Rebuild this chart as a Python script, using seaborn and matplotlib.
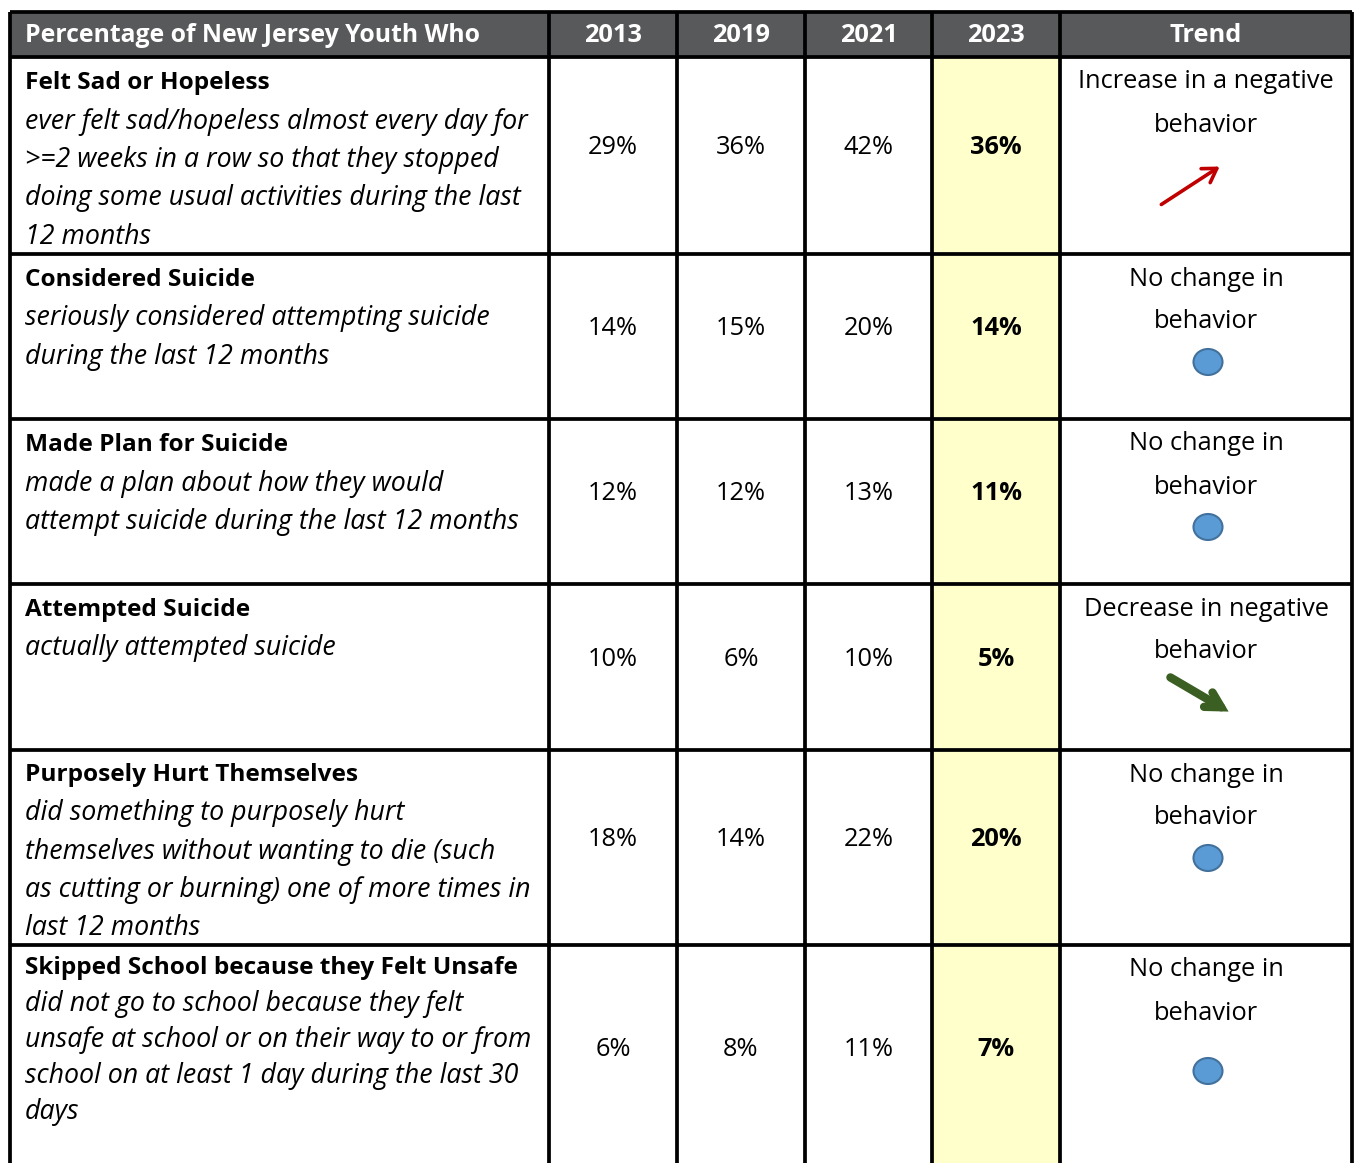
import matplotlib
matplotlib.use("Agg")
import matplotlib.pyplot as plt
import seaborn as sns
from matplotlib.patches import Rectangle, Ellipse

# --- data ---
measures = [
    "Felt Sad or Hopeless",
    "Considered Suicide",
    "Made Plan for Suicide",
    "Attempted Suicide",
    "Purposely Hurt Themselves",
    "Skipped School because they Felt Unsafe",
]
descriptions = [
    "ever felt sad/hopeless almost every day for\n>=2 weeks in a row so that they stopped\ndoing some usual activities during the last\n12 months",
    "seriously considered attempting suicide\nduring the last 12 months",
    "made a plan about how they would\nattempt suicide during the last 12 months",
    "actually attempted suicide",
    "did something to purposely hurt\nthemselves without wanting to die (such\nas cutting or burning) one of more times in\nlast 12 months",
    "did not go to school because they felt\nunsafe at school or on their way to or from\nschool on at least 1 day during the last 30\ndays",
]
years = ["2013", "2019", "2021", "2023"]
pct_2013 = [29, 14, 12, 10, 18, 6]
pct_2019 = [36, 15, 12, 6, 14, 8]
pct_2021 = [42, 20, 13, 10, 22, 11]
pct_2023 = [36, 14, 11, 5, 20, 7]
trend_text = [
    "Increase in a negative\nbehavior",
    "No change in\nbehavior",
    "No change in\nbehavior",
    "Decrease in negative\nbehavior",
    "No change in\nbehavior",
    "No change in\nbehavior",
]
trend_kind = ["up", "same", "same", "down", "same", "same"]
header_first = "Percentage of New Jersey Youth Who"
header_last = "Trend"

# --- layout (pixels) ---
W, H = 1354, 1163
col_edges = [10, 549, 677, 805, 932, 1060, 1352]
row_edges = [12, 57, 254, 419, 584, 750, 945, 1175]
title_off = [24, 24, 24, 24, 23, 21]
line_gap = [38.5, 38.5, 38.5, 38.5, 38.3, 36]
HEADER_BG = "#58595b"
YELLOW = "#ffffcc"
FONT = "Open Sans"
FS_HEAD = 17.8
FS_TITLE = 17.6
FS_DESC = 19.3
FS_NUM = 18.3
DY = 2.0  # Open Sans sits a bit high with va=center

sns.set_theme(style="white")
plt.rcParams["font.family"] = [FONT, "DejaVu Sans"]

fig = plt.figure(figsize=(W / 100, H / 100), dpi=100)
ax = fig.add_axes([0, 0, 1, 1])
ax.set_xlim(0, W)
ax.set_ylim(H, 0)
ax.axis("off")

# header band
ax.add_patch(Rectangle((col_edges[0], row_edges[0]), col_edges[-1] - col_edges[0],
                       row_edges[1] - row_edges[0], color=HEADER_BG, zorder=0))
# 2023 column highlight
ax.add_patch(Rectangle((col_edges[4], row_edges[1]), col_edges[5] - col_edges[4],
                       row_edges[-1] - row_edges[1], color=YELLOW, zorder=0))

# header text
hy = (row_edges[0] + row_edges[1]) / 2 + 1.5
ax.text(col_edges[0] + 15, hy, header_first, color="white", fontsize=FS_HEAD,
        fontweight="bold", ha="left", va="center")
for j, lab in enumerate(years + [header_last]):
    cx = (col_edges[j + 1] + col_edges[j + 2]) / 2
    ax.text(cx, hy, lab, color="white", fontsize=FS_NUM, fontweight="bold",
            ha="center", va="center")

values = [pct_2013, pct_2019, pct_2021, pct_2023]
for i in range(len(measures)):
    top = row_edges[i + 1]
    bot = row_edges[i + 2]
    # first column
    ty = top + title_off[i] + DY
    ax.text(col_edges[0] + 15, ty, measures[i], fontsize=FS_TITLE,
            fontweight="bold", ha="left", va="center", color="black")
    for k, line in enumerate(descriptions[i].split("\n")):
        ax.text(col_edges[0] + 15, ty + line_gap[i] * (k + 1), line, fontsize=FS_DESC,
                style="italic", ha="left", va="center", color="black")
    # percentages
    mid = (top + bot) / 2 - 10 if i < 5 else top + 102
    for j, col in enumerate(values):
        cx = (col_edges[j + 1] + col_edges[j + 2]) / 2
        ax.text(cx, mid + DY, f"{col[i]}%", fontsize=FS_NUM, ha="center", va="center",
                fontweight="bold" if j == 3 else "normal", color="black")
    # trend
    tx = (col_edges[5] + col_edges[6]) / 2
    for k, line in enumerate(trend_text[i].split("\n")):
        ax.text(tx, top + 23 + 43 * k + DY, line, fontsize=FS_NUM, ha="center",
                va="center", color="black")
    if trend_kind[i] == "same":
        cy = top + 108 if i < 5 else top + 126
        ax.add_patch(Ellipse((tx + 2, cy), 29, 26, facecolor="#5b9bd5",
                             edgecolor="#41719c", lw=1.5, zorder=3))
    elif trend_kind[i] == "up":
        ax.annotate("", xy=(tx + 16, top + 108), xytext=(tx - 47, top + 149),
                    arrowprops=dict(arrowstyle="->,head_length=0.8,head_width=0.5",
                                    color="#c00000", lw=2.6))
    else:
        ax.annotate("", xy=(tx + 25, top + 129), xytext=(tx - 38, top + 92),
                    arrowprops=dict(arrowstyle="->,head_length=0.9,head_width=0.5",
                                    color="#3b5e22", lw=6, capstyle="round",
                                    joinstyle="miter"))

# grid lines
LW = 2.7
for x in col_edges:
    ax.vlines(x, row_edges[0], H + 5, color="black", lw=LW, zorder=4)
for y in row_edges[:-1]:
    ax.hlines(y, col_edges[0], col_edges[-1], color="black", lw=LW, zorder=4)

fig.savefig("out.png", dpi=100)
